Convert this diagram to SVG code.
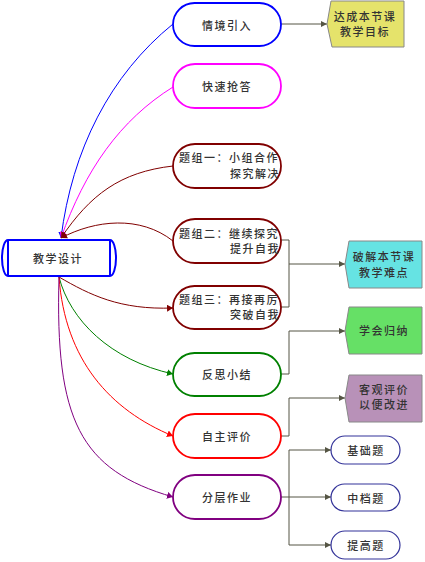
<svg xmlns="http://www.w3.org/2000/svg" width="425" height="562" viewBox="0 0 425 562">
<style>
text{font-family:"Noto Sans CJK SC","Noto Sans",sans-serif;font-size:11px;fill:#333;letter-spacing:1.5px;dominant-baseline:central;font-weight:500}
.c{text-anchor:middle}
.node{fill:#fff;stroke-width:1.8}
.conn path{fill:none;stroke-width:1}
.elbow{fill:none;stroke:#555544;stroke-width:1}
.small{fill:#fff;stroke:#333399;stroke-width:1.2}
.box{stroke:#888;stroke-width:1}
</style>
<defs>
<marker id="aBlue" markerUnits="userSpaceOnUse" markerWidth="7" markerHeight="7" refX="6" refY="3.5" orient="auto"><path d="M0,0 L6,3.5 L0,7z" fill="#0000ff"/></marker>
<marker id="aMag" markerUnits="userSpaceOnUse" markerWidth="7" markerHeight="7" refX="6" refY="3.5" orient="auto"><path d="M0,0 L6,3.5 L0,7z" fill="#ff00ff"/></marker>
<marker id="aDR" markerUnits="userSpaceOnUse" markerWidth="7" markerHeight="7" refX="6" refY="3.5" orient="auto"><path d="M0,0 L6,3.5 L0,7z" fill="#800000"/></marker>
<marker id="aG" markerUnits="userSpaceOnUse" markerWidth="7" markerHeight="7" refX="6" refY="3.5" orient="auto"><path d="M0,0 L6,3.5 L0,7z" fill="#008000"/></marker>
<marker id="aR" markerUnits="userSpaceOnUse" markerWidth="7" markerHeight="7" refX="6" refY="3.5" orient="auto"><path d="M0,0 L6,3.5 L0,7z" fill="#ff0000"/></marker>
<marker id="aP" markerUnits="userSpaceOnUse" markerWidth="7" markerHeight="7" refX="6" refY="3.5" orient="auto"><path d="M0,0 L6,3.5 L0,7z" fill="#800080"/></marker>
<marker id="aK" markerUnits="userSpaceOnUse" markerWidth="7" markerHeight="7" refX="6" refY="3.5" orient="auto"><path d="M0,0.5 L6,3.5 L0,6.5z" fill="#555544"/></marker>
</defs>
<rect width="425" height="562" fill="#fff"/>

<g id="connectors" class="conn">
<path d="M173,24 C110,75 72,150 61,238" stroke="#0000ff" marker-end="url(#aBlue)"/>
<path d="M173,87 C120,120 85,170 61,238" stroke="#ff00ff" marker-end="url(#aMag)"/>
<path d="M173,166 C120,172 90,195 61,238" stroke="#800000" marker-end="url(#aDR)"/>
<path d="M173,241 C140,215 95,220 61,238" stroke="#800000" marker-end="url(#aDR)"/>
<path d="M59,277 C90,295 120,310 173,308" stroke="#800000" marker-end="url(#aDR)"/>
<path d="M59,277 C70,320 110,360 173,374" stroke="#008000" marker-end="url(#aG)"/>
<path d="M59,277 C65,360 110,410 173,436" stroke="#ff0000" marker-end="url(#aR)"/>
<path d="M59,277 C55,420 80,470 173,497" stroke="#800080" marker-end="url(#aP)"/>
<path class="elbow" d="M281,24 H327" marker-end="url(#aK)"/>
<path class="elbow" d="M281,240 H289 V307 H281 M289,264 H345" marker-end="url(#aK)"/>
<path class="elbow" d="M281,374 H289 V331 H345" marker-end="url(#aK)"/>
<path class="elbow" d="M281,436 H289 V398 H345" marker-end="url(#aK)"/>
<path class="elbow" d="M281,497 H331" marker-end="url(#aK)"/>
<path class="elbow" d="M289,497 V450 H331" marker-end="url(#aK)"/>
<path class="elbow" d="M289,497 V545 H331" marker-end="url(#aK)"/>
</g>

<g id="n-center">
<path d="M8,240 H110 A6,18 0 0 1 110,276 H8 A6,18 0 0 1 8,240 Z M8,240 V276 M110,240 V276" fill="#fff" stroke="#0000ff" stroke-width="2"/>
<text class="c" x="58" y="258">教学设计</text>
</g>

<g id="n1"><rect class="node" x="173" y="3" width="108" height="43" rx="21.5" stroke="#0000ff"/><text class="c" x="227" y="24.5">情境引入</text></g>
<g id="n2"><rect class="node" x="173" y="64" width="108" height="44" rx="22" stroke="#ff00ff"/><text class="c" x="227" y="86">快速抢答</text></g>
<g id="n3"><rect class="node" x="173" y="144" width="108" height="44" rx="22" stroke="#800000"/><text x="179" y="157">题组一：小组合作</text><text x="230" y="173">探究解决</text></g>
<g id="n4"><rect class="node" x="173" y="219" width="108" height="44" rx="22" stroke="#800000"/><text x="179" y="233">题组二：继续探究</text><text x="230" y="248">提升自我</text></g>
<g id="n5"><rect class="node" x="173" y="286" width="108" height="43" rx="21.5" stroke="#800000"/><text x="179" y="299">题组三：再接再厉</text><text x="230" y="314">突破自我</text></g>
<g id="n6"><rect class="node" x="173" y="353" width="108" height="43" rx="21.5" stroke="#008000"/><text class="c" x="227" y="374">反思小结</text></g>
<g id="n7"><rect class="node" x="173" y="414" width="108" height="44" rx="22" stroke="#ff0000"/><text class="c" x="227" y="436">自主评价</text></g>
<g id="n8"><rect class="node" x="173" y="475" width="108" height="44" rx="22" stroke="#800080"/><text class="c" x="227" y="497">分层作业</text></g>

<g id="b1"><path class="box" d="M331,1 H404 V47 H332 L327,24 Z" fill="#e5e36b"/><text class="c" x="365" y="16">达成本节课</text><text class="c" x="365" y="31">教学目标</text></g>
<g id="b2"><path class="box" d="M349,241 H422 V288 H349 L345,264 Z" fill="#66e3e3"/><text class="c" x="384" y="256">破解本节课</text><text class="c" x="384" y="271.5">教学难点</text></g>
<g id="b3"><path class="box" d="M349,307 H422 V354 H349 L345,331 Z" fill="#66e066"/><text class="c" x="384" y="330">学会归纳</text></g>
<g id="b4"><path class="box" d="M349,375 H422 V422 H349 L345,398 Z" fill="#b891b8"/><text class="c" x="384" y="389">客观评价</text><text class="c" x="384" y="404">以便改进</text></g>

<g id="s1"><rect class="small" x="331" y="436" width="69" height="28" rx="14"/><text class="c" x="366" y="450">基础题</text></g>
<g id="s2"><rect class="small" x="331" y="484" width="69" height="27" rx="13.5"/><text class="c" x="366" y="497.5">中档题</text></g>
<g id="s3"><rect class="small" x="331" y="531" width="69" height="28" rx="14"/><text class="c" x="366" y="545">提高题</text></g>
</svg>
